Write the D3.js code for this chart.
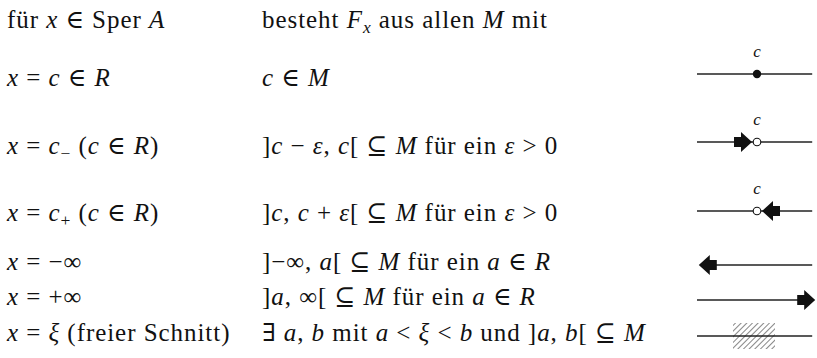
<!DOCTYPE html>
<meta charset="utf-8">
<title>Sper A</title>
<style>
body { margin: 0; background: #fff; }
svg text { font-family: "Liberation Serif", "DejaVu Serif", serif; fill: #111; white-space: pre; }
.cell { letter-spacing: 0.95px; }
.rule { stroke: #222; stroke-width: 1.3px; fill: none; }
</style>
<body>
<svg width="817" height="358"></svg>
<script src="https://d3js.org/d3.v7.min.js"></script>
<script>
// *..* = italic, _{..} = subscript
var leftCol = [
  "für *x* ∈ Sper *A*",
  "*x* = *c* ∈ *R*",
  "*x* = *c*_{−} (*c* ∈ *R*)",
  "*x* = *c*_{+} (*c* ∈ *R*)",
  "*x* = −∞",
  "*x* = +∞",
  "*x* = *ξ* (freier Schnitt)"
];
var rightCol = [
  "besteht *F*_{*x*} aus allen *M* mit",
  "*c* ∈ *M*",
  "]*c* − *ε*, *c*[ ⊆ *M* für ein *ε* > 0",
  "]*c*, *c* + *ε*[ ⊆ *M* für ein *ε* > 0",
  "]−∞, *a*[ ⊆ *M* für ein *a* ∈ *R*",
  "]*a*, ∞[ ⊆ *M* für ein *a* ∈ *R*",
  "∃ *a*, *b* mit *a* < *ξ* < *b* und ]*a*, *b*[ ⊆ *M*"
];
var pictures = ["none", "point", "left", "right", "minusInf", "plusInf", "free"];

var svg = d3.select("svg");

var rowY = d3.scaleOrdinal()
    .domain(d3.range(leftCol.length))
    .range([28, 86, 154, 221, 270, 305, 341]);
var colX = [7, 262];
var fontSize = 25;

// number line for the little pictures, c sits at 0
var xl = d3.scaleLinear().domain([-1, 1]).range([697, 817]);

function parse(s) {
  var out = [], re = /_\{(.*?)\}|\*(.*?)\*|([^*_]+)/g, m;
  while ((m = re.exec(s))) {
    if (m[1] !== undefined) {
      out.push({t: m[1].replace(/\*/g, ""), sub: true, it: /\*/.test(m[1])});
    } else if (m[2] !== undefined) out.push({t: m[2], it: true});
    else out.push({t: m[3], it: false});
  }
  return out;
}

function writeCell(x, y, s) {
  var t = svg.append("text").attr("class", "cell")
    .attr("x", x).attr("y", y).style("font-size", fontSize + "px");
  var lastSub = false;
  parse(s).forEach(function(p) {
    var ts = t.append("tspan").text(p.t)
      .style("font-style", p.it ? "italic" : "normal");
    if (p.sub) {
      ts.attr("dy", 5).style("font-size", (fontSize * 0.7) + "px");
      lastSub = true;
    } else if (lastSub) {
      ts.attr("dy", -5);
      lastSub = false;
    }
  });
}

leftCol.forEach(function(s, i) { writeCell(colX[0], rowY(i), s); });
rightCol.forEach(function(s, i) { writeCell(colX[1], rowY(i), s); });

// hatch pattern for the free cut
var pat = svg.append("defs").append("pattern")
    .attr("id", "hatch")
    .attr("patternUnits", "userSpaceOnUse")
    .attr("width", 4).attr("height", 4)
    .attr("patternTransform", "rotate(45)");
pat.append("line").attr("x1", 0).attr("y1", 0).attr("x2", 0).attr("y2", 4)
    .attr("stroke", "#222").attr("stroke-width", 1.1);

// arrow: tip at px, pointing dir (+1 right, -1 left)
function arrow(g, px, y, dir) {
  var head = 11, tail = 7, hh = 10, th = 5;
  var pts = [
    [px, y],
    [px - dir * head, y - hh],
    [px - dir * head, y - th],
    [px - dir * (head + tail), y - th],
    [px - dir * (head + tail), y + th],
    [px - dir * head, y + th],
    [px - dir * head, y + hh]
  ];
  g.append("path").attr("d", d3.line()(pts) + "Z").attr("fill", "#111");
}

pictures.forEach(function(kind, i) {
  if (kind == "none") return;
  var y = rowY(i) - (i < 3 ? 12 : i == 3 ? 10 : 5);
  var g = svg.append("g");
  var x0 = xl(-1), x1 = xl(0.92);
  if (kind == "minusInf") x0 = xl(-0.95);
  if (kind == "plusInf") x1 = xl(0.95);
  g.append("line").attr("class", "rule").attr("x1", x0).attr("x2", x1).attr("y1", y).attr("y2", y);

  if (kind == "point" || kind == "left" || kind == "right") {
    g.append("text").attr("x", xl(0)).attr("y", y - 17)
      .attr("text-anchor", "middle")
      .style("font-size", "17px").style("font-style", "italic").text("c");
  }
  if (kind == "point") {
    g.append("circle").attr("cx", xl(0)).attr("cy", y).attr("r", 4.2).attr("fill", "#111");
  }
  if (kind == "left") {
    arrow(g, xl(0) - 5, y, 1);
    g.append("circle").attr("cx", xl(0)).attr("cy", y).attr("r", 3.8)
      .attr("fill", "#fff").attr("stroke", "#111").attr("stroke-width", 1.1);
  }
  if (kind == "right") {
    arrow(g, xl(0) + 5, y, -1);
    g.append("circle").attr("cx", xl(0)).attr("cy", y).attr("r", 3.8)
      .attr("fill", "#fff").attr("stroke", "#111").attr("stroke-width", 1.1);
  }
  if (kind == "minusInf") arrow(g, xl(-0.97), y, -1);
  if (kind == "plusInf") arrow(g, xl(0.97), y, 1);
  if (kind == "free") {
    g.append("rect").attr("x", xl(-0.4)).attr("y", y - 13)
      .attr("width", xl(0.3) - xl(-0.4)).attr("height", 26)
      .attr("fill", "url(#hatch)");
  }
});
</script>
</body>
